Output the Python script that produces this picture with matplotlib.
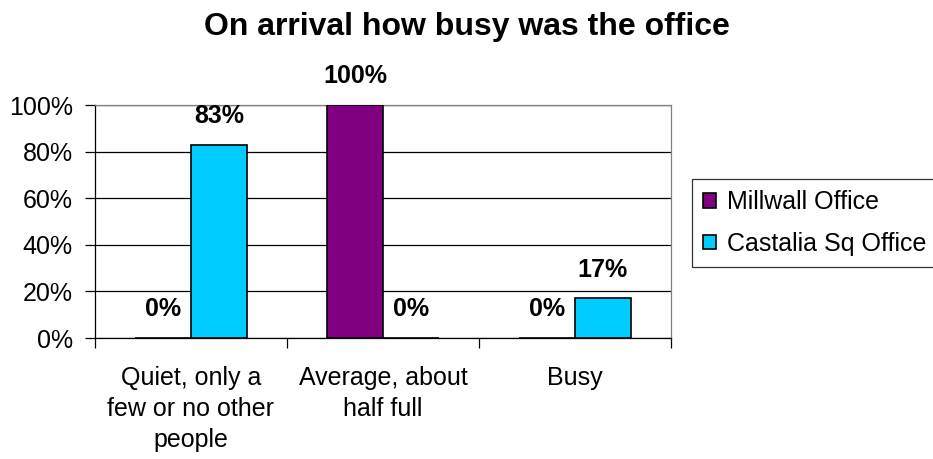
import matplotlib
matplotlib.use("Agg")
import matplotlib.pyplot as plt
from matplotlib.ticker import FixedLocator, NullFormatter
import numpy as np

plt.rcParams['font.family'] = ['Liberation Sans', 'DejaVu Sans']

title = "On arrival how busy was the office"
categories = ["Quiet, only a\nfew or no other\npeople", "Average, about\nhalf full", "Busy"]
series_names = ["Millwall Office", "Castalia Sq Office"]
millwall = [0, 100, 0]
castalia = [83, 0, 17]
colors = ["#800080", "#00CCFF"]
yticks = [0, 20, 40, 60, 80, 100]

FS = 18

fig = plt.figure(figsize=(9.33, 4.59), dpi=100)
ax = fig.add_axes([0.1018, 0.2636, 0.6174, 0.5076])

x = np.arange(len(categories))
w = 0.29
series = [millwall, castalia]
for i, (vals, name, col) in enumerate(zip(series, series_names, colors)):
    pos = x + (i - 0.5) * w
    bars = ax.bar(pos, vals, width=w, color=col, edgecolor="black",
                  linewidth=1.2, label=name, zorder=3)
    for b, v in zip(bars, vals):
        ax.annotate(f"{v}%", (b.get_x() + b.get_width() / 2, v),
                    xytext=(0, 12), textcoords="offset points",
                    ha="center", va="bottom", fontsize=FS, fontweight="bold")

ax.set_xlim(-0.5, len(categories) - 0.5)
ax.set_ylim(0, 100)
ax.set_yticks(yticks)
ax.set_yticklabels([f"{t}%" for t in yticks], fontsize=FS)
ax.yaxis.grid(True, color="black", linewidth=0.9, zorder=0)

# category labels sit between boundary ticks
ax.xaxis.set_major_locator(FixedLocator(np.arange(-0.5, len(categories), 1.0)))
ax.xaxis.set_major_formatter(NullFormatter())
ax.xaxis.set_minor_locator(FixedLocator(x))
ax.set_xticklabels(categories, minor=True, fontsize=FS, linespacing=1.38)
ax.tick_params(axis="x", which="minor", length=0, pad=20)
ax.tick_params(axis="x", which="major", length=7, direction="out", width=0.9)
ax.tick_params(axis="y", length=7, width=0.9, pad=9)

for s in ax.spines.values():
    s.set_color("#808080")
    s.set_linewidth(0.9)
ax.spines["left"].set_color("black")
ax.spines["bottom"].set_color("black")

fig.text(0.5, 0.924, title, ha="center", va="baseline", fontsize=23, fontweight="bold")

leg = fig.legend(loc="upper left", bbox_to_anchor=(0.7417, 0.61), fontsize=FS,
                 frameon=True, fancybox=False, edgecolor="black",
                 handlelength=0.5, handleheight=0.5, handletextpad=0.45,
                 borderpad=0.45, labelspacing=0.7, borderaxespad=0)
leg.get_frame().set_linewidth(0.9)

fig.savefig("out.png", dpi=100)
